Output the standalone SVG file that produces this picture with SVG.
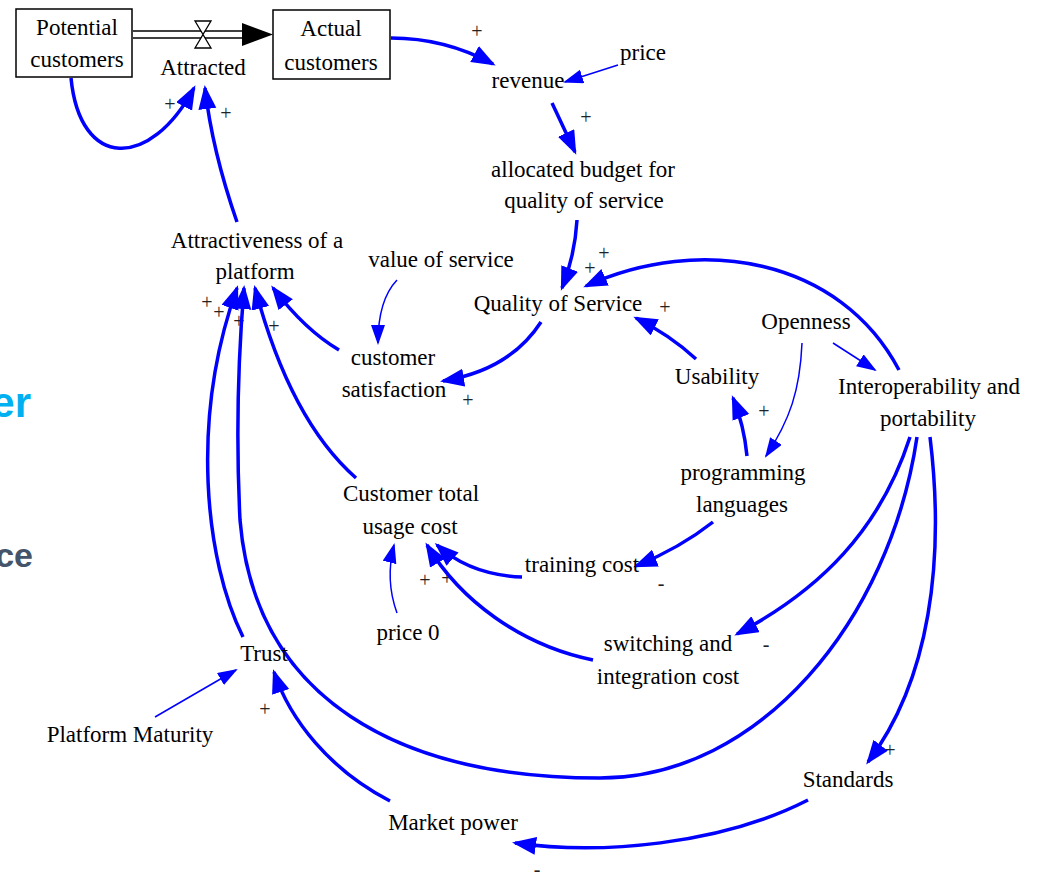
<svg xmlns="http://www.w3.org/2000/svg" width="1037" height="872" viewBox="0 0 1037 872">
<defs>
<style>
.t{font-family:"Liberation Serif","Times New Roman",serif;font-size:23px;fill:#000;text-anchor:middle}
.s{font-family:"Liberation Serif","Times New Roman",serif;font-size:20px;fill:#222;text-anchor:middle}
.k{fill:none;stroke:#0000FF;stroke-width:3.5;marker-end:url(#ah)}
.n{fill:none;stroke:#0000FF;stroke-width:1.5;marker-end:url(#as)}
.box{fill:#fff;stroke:#000;stroke-width:1.5}
</style>
<marker id="ah" markerUnits="userSpaceOnUse" markerWidth="26" markerHeight="20" refX="21" refY="9" orient="auto">
<path d="M0,0 L24,9 L0,18 z" fill="#0000FF"/>
</marker>
<marker id="as" markerUnits="userSpaceOnUse" markerWidth="22" markerHeight="16" refX="18" refY="7" orient="auto">
<path d="M0,0 L20,7 L0,14 z" fill="#0000FF"/>
</marker>
</defs>
<rect width="1037" height="872" fill="#fff"/>
<text x="31" y="417" text-anchor="end" style="font-family:'Liberation Sans',Arial,sans-serif;font-weight:bold;font-size:42px;fill:#00B0F0">er</text>
<text x="33" y="567" text-anchor="end" style="font-family:'Liberation Sans',Arial,sans-serif;font-weight:bold;font-size:34px;fill:#44546A">ce</text>

<g id="connectors">
<g id="flow">
<line x1="133" y1="31" x2="244" y2="31" stroke="#000" stroke-width="1.6"/>
<line x1="133" y1="38" x2="244" y2="38" stroke="#000" stroke-width="1.6"/>
<polygon points="242,23 273,34.5 242,46" fill="#000"/>
<polygon points="195,21 211,21 203,34.5 211,48 195,48 203,34.5" fill="#fff" stroke="#000" stroke-width="1.3"/>
</g>
<g id="polarities">
<text class="s" x="170" y="111">+</text>
<text class="s" x="226" y="120">+</text>
<text class="s" x="477" y="38">+</text>
<text class="s" x="586" y="124">+</text>
<text class="s" x="590" y="275">+</text>
<text class="s" x="604" y="260">+</text>
<text class="s" x="665" y="314">+</text>
<text class="s" x="764" y="418">+</text>
<text class="s" x="468" y="407">+</text>
<text class="s" x="207" y="309">+</text>
<text class="s" x="219" y="319">+</text>
<text class="s" x="239" y="328">+</text>
<text class="s" x="274" y="333">+</text>
<text class="s" x="425" y="587">+</text>
<text class="s" x="447" y="585">+</text>
<text class="s" x="661" y="590">-</text>
<text class="s" x="766" y="651">-</text>
<text class="s" x="265" y="716">+</text>
<text class="s" x="890" y="757">+</text>
<text class="s" x="537" y="876">-</text>
</g>
<path class="k" d="M71,78 C80,170 150,170 194,88"/>
<path class="k" d="M237,222 Q212,150 205,88"/>
<path class="k" d="M391,38 Q445,38 493,64"/>
<path class="n" d="M618,65 L565,82"/>
<path class="k" d="M552,103 L575,152"/>
<path class="k" d="M577,220 Q575,255 562,288"/>
<path class="k" d="M899,370 C840,258 700,234 586,286"/>
<path class="n" d="M833,343 L875,370"/>
<path class="n" d="M802,343 C800,390 790,420 766,456"/>
<path class="k" d="M696,359 Q670,335 636,318"/>
<path class="k" d="M747,456 Q744,425 733,398"/>
<path class="k" d="M713,522 Q680,548 636,566"/>
<path class="k" d="M522,577 Q470,575 437,545"/>
<path class="k" d="M593,660 C520,645 460,600 427,545"/>
<path class="n" d="M397,613 Q385,580 394,545"/>
<path class="k" d="M356,478 Q290,420 255,288"/>
<path class="k" d="M339,350 Q305,330 273,288"/>
<path class="k" d="M541,322 Q510,370 443,381"/>
<path class="n" d="M397,280 Q378,300 378,343"/>
<path class="k" d="M910,437 C880,530 820,590 737,634"/>
<path class="k" d="M930,437 C945,560 930,680 868,762"/>
<path class="k" d="M917,437 C890,620 760,778 600,778 C400,778 255,700 240,520 C236,440 238,360 244,288"/>
<path class="k" d="M243,637 C205,560 190,420 237,288"/>
<path class="n" d="M155,717 L236,670"/>
<path class="k" d="M390,801 C330,770 290,720 274,672"/>
<path class="k" d="M808,800 C720,845 600,855 515,843"/>
</g>

<g id="potential-customers">
<rect class="box" x="16" y="9" width="116" height="68"/>
<text class="t" x="77" y="35">Potential</text>
<text class="t" x="77" y="67">customers</text>
</g>
<g id="actual-customers">
<rect class="box" x="273" y="10" width="117" height="69"/>
<text class="t" x="331" y="36">Actual</text>
<text class="t" x="331" y="70">customers</text>
</g>
<g id="attracted"><text class="t" x="203" y="75">Attracted</text></g>
<g id="revenue"><text class="t" x="528" y="88">revenue</text></g>
<g id="price"><text class="t" x="643" y="60">price</text></g>
<g id="allocated-budget"><text class="t" x="583" y="177">allocated budget for</text><text class="t" x="584" y="208">quality of service</text></g>
<g id="attractiveness"><text class="t" x="257" y="248">Attractiveness of a</text><text class="t" x="255" y="279">platform</text></g>
<g id="value-of-service"><text class="t" x="441" y="267">value of service</text></g>
<g id="quality-of-service"><text class="t" x="558" y="311">Quality of Service</text></g>
<g id="openness"><text class="t" x="806" y="329">Openness</text></g>
<g id="usability"><text class="t" x="717" y="384">Usability</text></g>
<g id="customer-satisfaction"><text class="t" x="393" y="365">customer</text><text class="t" x="394" y="397">satisfaction</text></g>
<g id="interoperability"><text class="t" x="929" y="394">Interoperability and</text><text class="t" x="928" y="426">portability</text></g>
<g id="programming-languages"><text class="t" x="743" y="480">programming</text><text class="t" x="742" y="512">languages</text></g>
<g id="customer-total-usage-cost"><text class="t" x="411" y="501">Customer total</text><text class="t" x="410" y="534">usage cost</text></g>
<g id="training-cost"><text class="t" x="582" y="572">training cost</text></g>
<g id="price-0"><text class="t" x="408" y="640">price 0</text></g>
<g id="switching-cost"><text class="t" x="668" y="651">switching and</text><text class="t" x="668" y="684">integration cost</text></g>
<g id="trust"><text class="t" x="264" y="661">Trust</text></g>
<g id="platform-maturity"><text class="t" x="130" y="742">Platform Maturity</text></g>
<g id="standards"><text class="t" x="848" y="787">Standards</text></g>
<g id="market-power"><text class="t" x="453" y="830">Market power</text></g>
</svg>
